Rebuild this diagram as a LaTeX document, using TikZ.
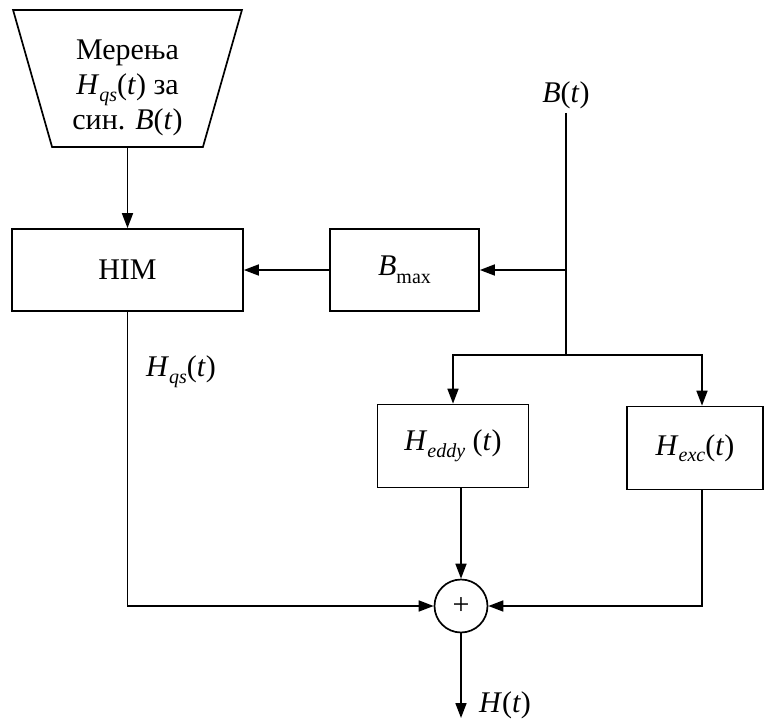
\documentclass[tikz,border=0pt]{standalone}
\usepackage{fontspec}
\setmainfont{Liberation Serif}
\usetikzlibrary{arrows.meta, shapes.geometric}
\newcommand{\ivar}[1]{\textit{#1}}
\newcommand{\isub}[1]{\raisebox{-0.22em}{\fontsize{20}{20}\selectfont\textit{#1}}}

\begin{document}
\begin{tikzpicture}[x=1pt, y=-1pt, line width=1.7pt,
  every node/.style={font=\fontsize{30}{35}\selectfont},
  blk/.style={draw, rectangle, minimum height=82pt, inner sep=0pt},
  arr/.style={-{Triangle[length=15pt,width=11pt]}},
  sumnode/.style={draw, circle, minimum size=53pt, inner sep=0pt}]
\useasboundingbox (0,0) rectangle (764,720);
\node (meas) at (127.5,78.5) [draw, trapezium, shape border rotate=180, trapezium stretches=true, minimum width=229pt, minimum height=137pt, trapezium left angle=75.5, trapezium right angle=75.5] {};
\node (meastxt) at (127.5,88) [align=center] {Мерења\\\ivar{H}\isub{qs}(\ivar{t}) за\\син. \ivar{B}(\ivar{t})};
\node (him) at (127.5,270) [blk, minimum width=231pt] {HIM};
\node (bmax) at (404.5,270) [blk, minimum width=149pt] {\ivar{B}\raisebox{-0.25em}{\fontsize{20}{20}\selectfont max}};
\node (bin) at (566,95) {\ivar{B}(\ivar{t})};
\coordinate (bsplit) at (566,355);
\node (heddy) at (453,446) [blk, minimum width=151pt, minimum height=83pt] {\ivar{H}\isub{eddy}~(\ivar{t})};
\node (hexc) at (695,448) [blk, minimum width=136pt, minimum height=83pt] {\ivar{H}\isub{exc}(\ivar{t})};
\node (sum) at (461,606) [sumnode] {+};
\coordinate (hout) at (461,718);
\node (hqslbl) at (181,372) {\ivar{H}\isub{qs}(\ivar{t})};
\node (hlbl) at (505,705) {\ivar{H}(\ivar{t})};
\draw [arr] (meas.south) -- (him.north);
\draw [arr] (bmax.west) -- (him.east);
\draw (bin.south) -- (bsplit);
\draw [arr] (bin.south |- bmax) -- (bmax.east);
\draw [arr] (bsplit) -| (heddy.north);
\draw [arr] (bsplit) -| ([xshift=7pt]hexc.north);
\draw [arr] (heddy.south -| sum.north) -- (sum.north);
\draw [arr] ([xshift=7pt]hexc.south) |- (sum.east);
\draw [arr] (him.south) |- (sum.west);
\draw [arr] (sum.south) -- (hout);
\end{tikzpicture}
\end{document}
